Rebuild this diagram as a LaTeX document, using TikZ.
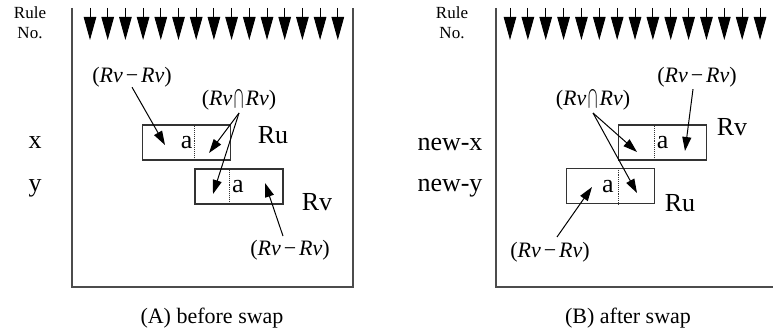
\documentclass[tikz,border=0pt]{standalone}
\usepackage{fontspec}
\usepackage{graphicx}
\setmainfont{Liberation Serif}
\usetikzlibrary{arrows.meta}

\newcommand{\setdiff}{(\textit{Rv}\kern3pt\textup{−}\kern3pt\textit{Rv})}
\newcommand{\setcap}{(\textit{Rv}\kern2pt\raisebox{-0.15em}{\resizebox{0.42em}{0.88em}{$\bigcap$}}\kern2pt\textit{Rv})}

\tikzset{
  frame/.style={draw=black!70, line width=1.8pt},
  rec/.style={draw=black!80, line width=1.3pt, minimum width=88pt, minimum height=35pt, inner sep=0pt},
  divider/.style={draw=black!80, densely dotted, line width=0.9pt},
  pointer/.style={-{Triangle[length=14pt,width=9pt]}, line width=1pt},
  rulearrow/.style={-{Triangle[length=23pt,width=12.5pt]}, line width=1pt},
  rowlbl/.style={font=\fontsize{26}{26}\selectfont, inner sep=0pt},
  reglbl/.style={font=\fontsize{26}{26}\selectfont, inner sep=0pt},
  celllbl/.style={font=\fontsize{26}{26}\selectfont, inner sep=0pt},
  setlbl/.style={font=\fontsize{22}{22}\selectfont, inner sep=0pt},
  rulelbl/.style={font=\fontsize{17}{19}\selectfont, inner sep=0pt, align=center},
  caption/.style={font=\fontsize{22}{22}\selectfont, inner sep=0pt}
}

\begin{document}
\begin{tikzpicture}[x=1pt, y=-1pt]
  \useasboundingbox (0,0) rectangle (773,331);

  % ---------------- (A) before swap ----------------
  \draw[frame] (72,8) -- (72,287) -- (353,287) -- (353,8);
  \foreach \i in {0,...,14}
    \draw[rulearrow] (90+17.7*\i,8) -- (90+17.7*\i,40);
  \node[rulelbl] (ruleA) at (30,13) {Rule};
  \node[rulelbl] (noA) at (30,33) {No.};

  \node[rowlbl] (rowx) at (35,143) {x};
  \node[rowlbl] (rowy) at (35,188) {y};

  \node[rec] (boxAx) at (186.7,142.5) {};
  \node[rec] (boxAy) at (239,186.5) {};
  \draw[divider] ([xshift=52.3pt]boxAx.north west) -- ([xshift=52.3pt]boxAx.south west);
  \draw[divider] ([xshift=35pt]boxAy.north west) -- ([xshift=35pt]boxAy.south west);
  \node[celllbl] (aAx) at (186.7,143) {a};
  \node[celllbl] (aAy) at (238,187) {a};
  \node[reglbl] (RuA) at (273,135) {Ru};
  \node[reglbl] (RvA) at (317,202) {Rv};

  \node[setlbl] (diffA1) at (132,77) {\setdiff};
  \node[setlbl] (capA) at (239,100) {\setcap};
  \node[setlbl] (diffA2) at (290,250) {\setdiff};

  \coordinate (jA) at (239,113);
  \coordinate (tA1) at (165,145);
  \coordinate (tA2) at (209,153);
  \coordinate (tA3) at (213,194);
  \coordinate (sA4) at (283,236);
  \coordinate (tA4) at (265,183);
  \draw[pointer] (diffA1.south) -- (tA1);
  \draw[pointer] (jA) -- (tA2);
  \draw[pointer] (jA) -- (tA3);
  \draw[pointer] (sA4) -- (tA4);

  \node[caption] (capA) at (212,318) {(A) before swap};

  % ---------------- (B) after swap ----------------
  \draw[frame] (496,8) -- (496,287) -- (773,287);
  \foreach \i in {0,...,14}
    \draw[rulearrow] (510+17.86*\i,8) -- (510+17.86*\i,40);
  \node[rulelbl] (ruleB) at (452,13) {Rule};
  \node[rulelbl] (noB) at (452,33) {No.};

  \node[rowlbl] (rownx) at (450,145) {new-x};
  \node[rowlbl] (rowny) at (450,188) {new-y};

  \node[rec] (boxBx) at (662.5,142.5) {};
  \node[rec] (boxBy) at (610.2,186) {};
  \draw[divider] ([xshift=36.7pt]boxBx.north west) -- ([xshift=36.7pt]boxBx.south west);
  \draw[divider] ([xshift=53pt]boxBy.north west) -- ([xshift=53pt]boxBy.south west);
  \node[celllbl] (aBx) at (662.7,143) {a};
  \node[celllbl] (aBy) at (608,187) {a};
  \node[reglbl] (RvB) at (732,127) {Rv};
  \node[reglbl] (RuB) at (680,203) {Ru};

  \node[setlbl] (diffB1) at (697,77) {\setdiff};
  \node[setlbl] (capB) at (593,100) {\setcap};
  \node[setlbl] (diffB2) at (550,252) {\setdiff};

  \coordinate (jB) at (593,113);
  \coordinate (tB1) at (685,151);
  \coordinate (tB2) at (637,152);
  \coordinate (tB3) at (637,193);
  \coordinate (sB4) at (557,237);
  \coordinate (tB4) at (592,187);
  \draw[pointer] (diffB1.south) ++(-4,2) -- (tB1);
  \draw[pointer] (jB) -- (tB2);
  \draw[pointer] (jB) -- (tB3);
  \draw[pointer] (sB4) -- (tB4);

  \node[caption] (capBn) at (628,318) {(B) after swap};
\end{tikzpicture}
\end{document}
